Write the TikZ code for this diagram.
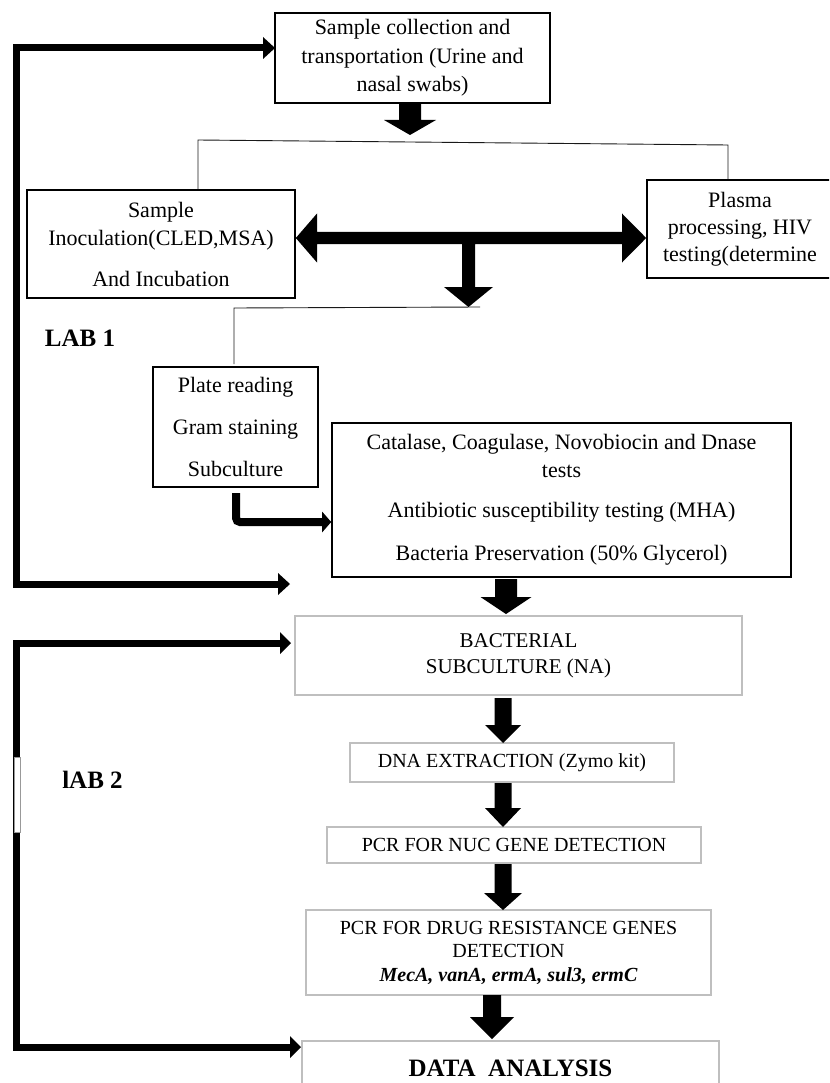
\documentclass[tikz,border=0pt]{standalone}
\usepackage{fontspec}
\setmainfont{Liberation Serif}
\newcommand\blkdown[6]{\fill (#1-#5,#2) -- (#1+#5,#2) -- (#1+#5,#3) -- (#1+#6,#3) -- (#1,#4) -- (#1-#6,#3) -- (#1-#5,#3) -- cycle;}
\begin{document}
\begin{tikzpicture}[x=1pt,y=-1pt,
  bx/.style={draw=black, line width=1.6pt, inner sep=0pt, align=center, font=\fontsize{22}{28}\selectfont},
  gbx/.style={draw=black!25, line width=2pt, inner sep=0pt, align=center, font=\fontsize{20}{23.5}\selectfont},
  thinln/.style={draw=black!90, line width=0.9pt},
  bar/.style={line width=7pt, line join=miter},
  lab/.style={font=\fontsize{25}{28}\selectfont\bfseries, inner sep=0pt}]
\useasboundingbox (0,0) rectangle (829,1083);
\clip (0,0) rectangle (829,1083);
% boxes
\node[bx, minimum width=275pt, minimum height=90pt, font=\fontsize{22}{28.5}\selectfont] (b1) at (412.5,58)
  {Sample collection and\\transportation (Urine and\\nasal swabs)};
\node[bx, minimum width=268pt, minimum height=108pt] (b2) at (161,244)
  {Sample\\Inoculation(CLED,MSA)\\[13pt]And Incubation};
\node[bx, minimum width=186pt, minimum height=98pt, font=\fontsize{22}{27}\selectfont] (b3) at (740,229)
  {Plasma\\processing, HIV\\testing(determine};
\node[bx, minimum width=165pt, minimum height=120pt] (b4) at (235.5,427)
  {Plate reading\\[14pt]Gram staining\\[14pt]Subculture};
\node[bx, minimum width=459pt, minimum height=154pt] (b5) at (561.5,500)
  {Catalase, Coagulase, Novobiocin and Dnase\\tests\\[12pt]Antibiotic susceptibility testing (MHA)\\[15pt]Bacteria Preservation (50\% Glycerol)};
\node[gbx, minimum width=447pt, minimum height=79pt, font=\fontsize{21}{26}\selectfont] (b6) at (518.5,655.5)
  {BACTERIAL\\SUBCULTURE (NA)};
\node[gbx, minimum width=324pt, minimum height=39pt] (b7) at (512,762.5)
  {DNA EXTRACTION (Zymo kit)};
\node[gbx, minimum width=374pt, minimum height=36pt] (b8) at (514,845)
  {PCR FOR NUC GENE DETECTION};
\node[gbx, minimum width=405pt, minimum height=85pt] (b9) at (508.5,952.5)
  {PCR FOR DRUG RESISTANCE GENES\\DETECTION\\{\bfseries\itshape MecA, vanA, ermA, sul3, ermC}};
\node[gbx, minimum width=417pt, minimum height=54pt, font=\fontsize{25}{28}\selectfont\bfseries] (b10) at (510.5,1068)
  {DATA\ \ ANALYSIS};
% labels
\node[lab] (lab1) at (80,338) {LAB 1};
\node[lab] (lab2) at (92.5,780) {lAB 2};
% thin branch lines
\draw[thinln] (b2.north -| 198,0) -- (198,140) -- (728,145) -- (b3.north -| 728,0);
\draw[thinln] (234,364) -- (234,308) -- (480,307);
% block arrows
\blkdown{410}{103}{120}{135}{11}{26}
\fill (b2.east |- 0,238) -- (317,213.5) -- (317,232) -- (622,232) -- (622,213.5) -- (b3.west |- 0,238)
  -- (622,262.5) -- (622,244) -- (475,244) -- (475,287) -- (493,287) -- (468.5,307) -- (444,287)
  -- (462,287) -- (462,244) -- (317,244) -- (317,262.5) -- cycle;
\blkdown{506}{579}{597}{614}{11}{25.5}
\blkdown{503}{698}{725}{743}{8.5}{18}
\blkdown{503}{783}{808}{827}{8.5}{18}
\blkdown{503}{864}{893}{910}{8.5}{19}
\blkdown{492}{995}{1017}{1039}{9}{22}
% plate -> catalase
\draw[line width=8pt, rounded corners=4pt] (236,493) -- (236,522) -- (324,522);
\fill (322,511.5) -- (b5.west |- 0,522) -- (322,532.5) -- cycle;
% LAB 1 bracket
\coordinate (l1a) at (275,48);
\coordinate (l1b) at (290,584);
\draw[bar] (265,48) -- (16.5,48) -- (16.5,584) -- (280,584);
\fill (263,37) -- (l1a) -- (263,59) -- cycle;
\fill (278,573) -- (l1b) -- (278,595) -- cycle;
% LAB 2 bracket
\coordinate (l2a) at (291,643);
\coordinate (l2b) at (301,1047);
\draw[bar] (282,643) -- (16.5,643) -- (16.5,1047) -- (292,1047);
\fill (280,632) -- (l2a) -- (280,654) -- cycle;
\fill (290,1036) -- (l2b) -- (290,1058) -- cycle;
\filldraw[fill=white, draw=black!40, line width=0.6pt] (14,757) rectangle (20.5,832);
\end{tikzpicture}
\end{document}
